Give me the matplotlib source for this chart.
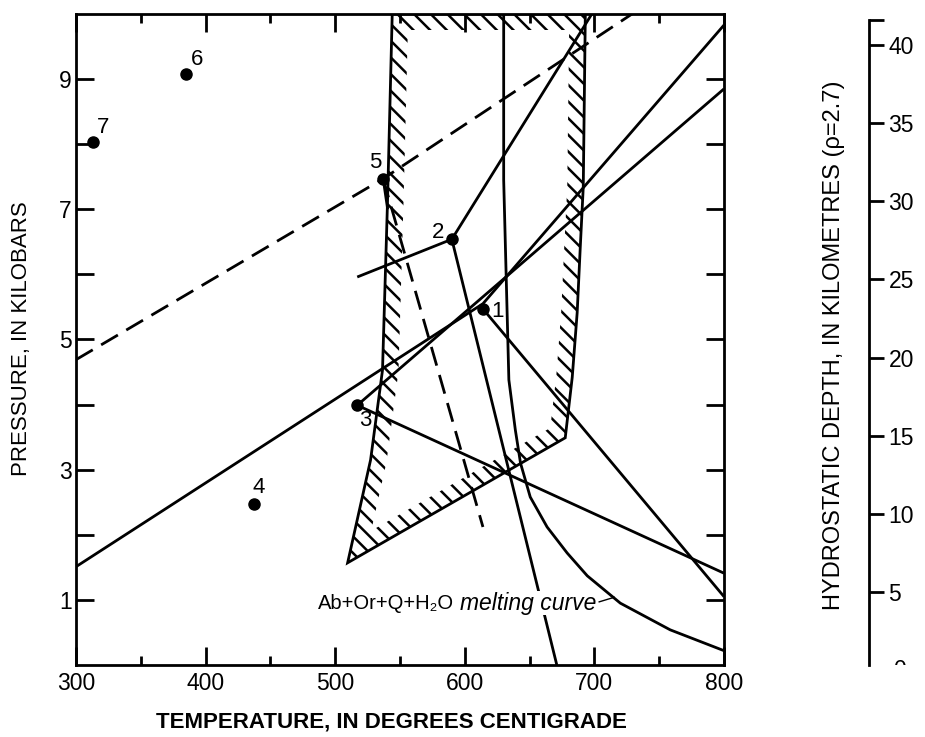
import numpy as np
import matplotlib
matplotlib.use("Agg")
import matplotlib.pyplot as plt
from matplotlib.patches import Polygon, Rectangle
from matplotlib import transforms

plt.rcParams['font.family'] = ['Liberation Sans', 'DejaVu Sans']
plt.rcParams['hatch.linewidth'] = 1.8

# numbered sample points (temperature C, pressure kbar)
pt_labels = ['1', '2', '3', '4', '5', '6', '7']
pt_temp = [614, 590, 517, 437, 537, 385, 313]
pt_press = [5.47, 6.54, 3.99, 2.47, 7.47, 9.08, 8.03]

# dashed curves
dash_upper_t = [300, 537, 729]
dash_upper_p = [4.69, 7.47, 10.0]
dash_lower_t = [537, 614]
dash_lower_p = [7.47, 2.12]

# solid reaction lines
geotherm_t = [300, 614, 800]
geotherm_p = [1.51, 5.55, 9.83]
line3_up_t = [517, 800]
line3_up_p = [3.99, 8.85]
line3_down_t = [517, 800]
line3_down_p = [3.99, 1.41]
line1_down_t = [614, 800]
line1_down_p = [5.47, 1.05]
line2_up_t = [590, 698]
line2_up_p = [6.54, 10.0]
line2_left_t = [590, 517]
line2_left_p = [6.54, 5.96]
line2_down_t = [590, 671]
line2_down_p = [6.54, 0.0]
line5_down_t = [537, 540.5]
line5_down_p = [7.47, 7.0]

# Ab+Or+Q+H2O melting curve
melt_t = [630, 630, 634, 639, 643, 650.5, 663.5, 679, 694.5, 720, 758.5, 800]
melt_p = [10, 7.45, 4.38, 3.61, 3.10, 2.58, 2.12, 1.72, 1.37, 0.95, 0.54, 0.22]

# hatched field outline
zone_t = [544, 693, 691.4, 689.1, 686.7, 682.9, 677.5, 509.6, 527.3, 536.5, 540.4]
zone_p = [10, 10, 7.34, 6.42, 5.41, 4.42, 3.49, 1.57, 3.15, 4.53, 7.14]

# depth scale
depth_ticks = [5, 10, 15, 20, 25, 30, 35, 40]


def inset(px, d):
    # shift every edge of the polygon inward by d pixels
    n = len(px)
    area = 0.5 * np.sum(px[:, 0] * np.roll(px[:, 1], -1) - np.roll(px[:, 0], -1) * px[:, 1])
    sgn = 1 if area > 0 else -1
    lines = []
    for i in range(n):
        p0, p1 = px[i], px[(i + 1) % n]
        u = (p1 - p0) / np.linalg.norm(p1 - p0)
        nrm = np.array([-u[1], u[0]]) * sgn
        lines.append((p0 + nrm * d, u))
    out = []
    for i in range(n):
        (a, u), (b, v) = lines[i - 1], lines[i]
        s, t = np.linalg.solve(np.array([u, -v]).T, b - a)
        out.append(a + s * u)
    return np.array(out)


fig = plt.figure(figsize=(9.25, 7.37), dpi=100)
W, H = 925, 737
ax = fig.add_axes([76 / W, (H - 665) / H, (724 - 76) / W, (665 - 14) / H])
ax.set_xlim(300, 800)
ax.set_ylim(0, 10)

for s in ax.spines.values():
    s.set_linewidth(2)

ax.set_xticks([300, 400, 500, 600, 700, 800])
ax.set_xticks([350, 450, 550, 650, 750], minor=True)
ax.set_yticks([1, 3, 5, 7, 9])
ax.set_yticks([2, 4, 6, 8], minor=True)
ax.tick_params(which='both', direction='in', top=True, right=True, width=2,
               labelsize=16.5)
ax.tick_params(axis='x', which='major', length=13, pad=5)
ax.tick_params(axis='x', which='minor', length=6.5)
ax.tick_params(axis='y', which='both', length=13, pad=3)

# hatched field: hatch everything, then blank the middle
zone = np.column_stack([zone_t, zone_p])
zone_px = ax.transData.transform(zone)
inner = ax.transData.inverted().transform(inset(zone_px, 16))
ax.add_patch(Polygon(zone, closed=True, facecolor='none', edgecolor='black',
                     hatch='\\\\', lw=0, zorder=1))
ax.add_patch(Polygon(inner, closed=True, facecolor='white', edgecolor='none', zorder=1.5))
ax.add_patch(Polygon(zone, closed=True, fill=False, edgecolor='black', lw=2, zorder=3))

kw = dict(color='black', lw=2, zorder=4, solid_capstyle='butt')
ax.plot(dash_upper_t, dash_upper_p, linestyle=(0, (7, 3.5)), **kw)
ax.plot(dash_lower_t, dash_lower_p, linestyle=(0, (7, 3.5)), **kw)
for tt, pp in [(geotherm_t, geotherm_p), (line3_up_t, line3_up_p),
               (line3_down_t, line3_down_p), (line1_down_t, line1_down_p),
               (line2_up_t, line2_up_p), (line2_left_t, line2_left_p),
               (line2_down_t, line2_down_p), (line5_down_t, line5_down_p),
               (melt_t, melt_p)]:
    ax.plot(tt, pp, **kw)

ax.plot(pt_temp, pt_press, 'o', color='black', ms=8, zorder=5)
offsets = {'1': (15, -3), '2': (-14, 7), '3': (8, -15), '4': (5, 17),
           '5': (-8, 16), '6': (11, 14), '7': (10, 15)}
for lab, t, p in zip(pt_labels, pt_temp, pt_press):
    ax.annotate(lab, (t, p), xytext=offsets[lab], textcoords='offset pixels',
                ha='center', va='center', fontsize=16, zorder=6)

t1 = ax.text(486.4, 0.95, 'Ab+Or+Q+H\u2082O', fontsize=14.5, ha='left', va='center', zorder=6)
ax.annotate('melting curve', xy=(1, 0.5), xycoords=t1, xytext=(6, 0),
            textcoords='offset pixels', fontsize=16.5, style='italic', ha='left', va='center',
            zorder=6, bbox=dict(facecolor='white', edgecolor='none', pad=0.5))
ax.plot([703.7, 715.3], [0.97, 1.04], color='black', lw=1, zorder=4)

# hydrostatic depth scale
ax_d = fig.add_axes([860 / W, (H - 665) / H, 9 / W, (665 - 14) / H])
ax_d.set_ylim(0.33, 41.98)
ax_d.set_xticks([])
for k in ['left', 'top', 'bottom']:
    ax_d.spines[k].set_visible(False)
ax_d.spines['right'].set_linewidth(2)
ax_d.spines['right'].set_bounds(0.33, 41.6)
ax_d.patch.set_visible(False)
ax_d.yaxis.tick_right()
ax_d.set_yticks(depth_ticks + [41.6], labels=[str(v) for v in depth_ticks] + [''])
ax_d.tick_params(axis='y', direction='out', length=11, width=2, pad=3, labelsize=16.5)
tr = transforms.blended_transform_factory(fig.transFigure, ax_d.transData)
zero = fig.text(893 / W, 0, '0', transform=tr, fontsize=16.5, ha='left', va='center')
zero.set_clip_path(Rectangle((0, (H - 665) / H), 1, 1, transform=fig.transFigure))

fig.text(391 / W, 1 - 722 / H, 'TEMPERATURE, IN DEGREES CENTIGRADE', fontsize=16,
         fontweight='bold', ha='center', va='center')
fig.text(22 / W, 1 - 339 / H, 'PRESSURE, IN KILOBARS', fontsize=16, rotation=90,
         ha='center', va='center')
fig.text(834 / W, 1 - 345 / H, 'HYDROSTATIC DEPTH, IN KILOMETRES (\u03c1=2.7)', fontsize=17,
         rotation=90, ha='center', va='center')

fig.savefig('out.png', dpi=100)
